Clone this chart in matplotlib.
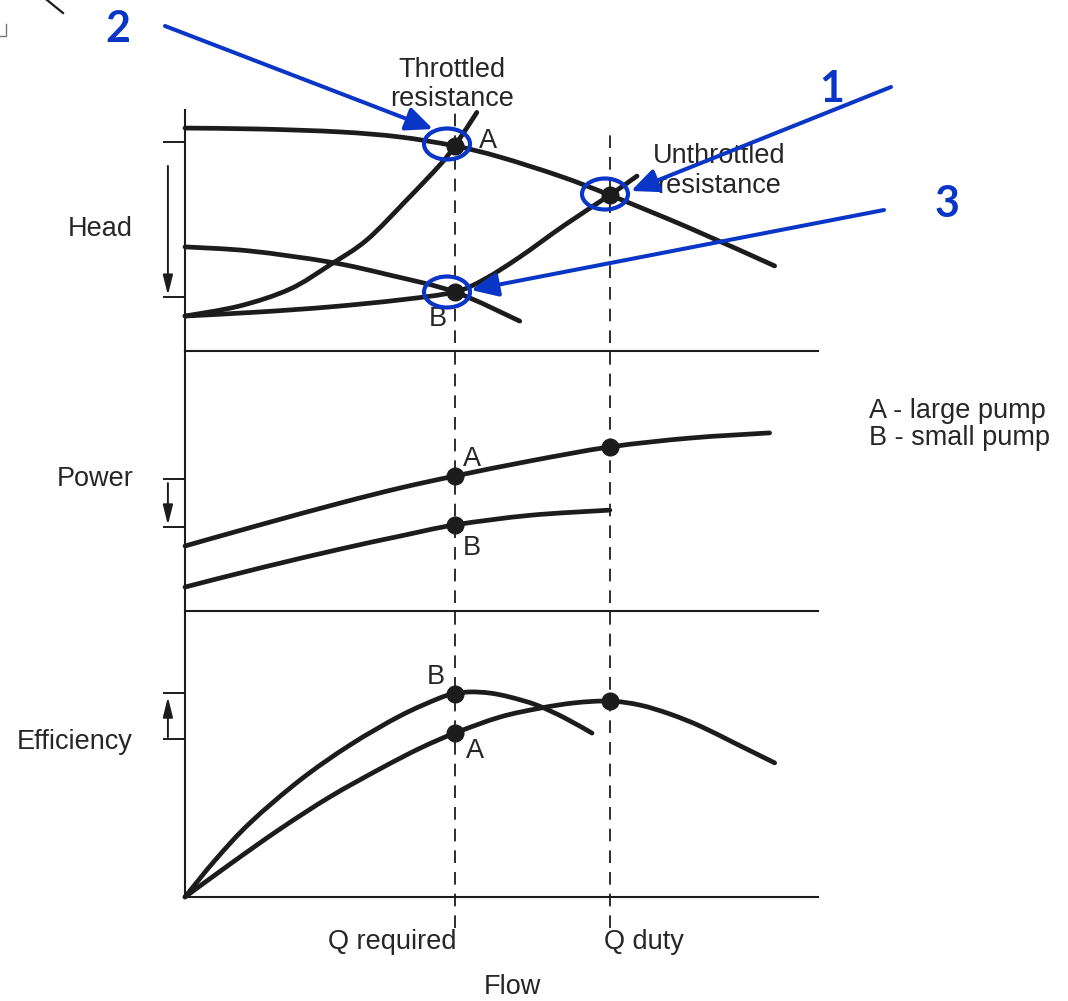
import numpy as np
import matplotlib.pyplot as plt
from matplotlib.patches import Ellipse, PathPatch
from matplotlib.path import Path
from matplotlib.transforms import blended_transform_factory

plt.rcParams['font.family'] = ['Liberation Sans', 'DejaVu Sans']

# flow in % of duty flow
q_required = 63.5
q_duty = 100

# head curves (% of panel height)
head_a_flow = [0, 17.6, 36.5, 50.6, 63.5, 74.1, 88.2, 100, 118.8, 138.8]
head_a = [92.5, 92.1, 90.9, 88.8, 85.1, 80.5, 72.6, 64.7, 51.0, 35.3]
head_b_flow = [0, 15.3, 34.1, 48.2, 63.5, 78.8]
head_b = [43.2, 41.5, 36.9, 31.5, 24.5, 12.4]
throttled_flow = [0, 12.9, 24.7, 34.1, 42.8, 52.2, 60.0, 63.5, 68.7]
throttled_head = [14.5, 18.7, 25.7, 35.7, 46.1, 62.7, 77.2, 85.1, 99.0]
unthrottled_flow = [0, 17.6, 34.1, 50.6, 63.5, 70.6, 78.8, 89.4, 100, 106.4]
unthrottled_head = [14.5, 16.2, 18.3, 21.2, 24.5, 29.9, 39.0, 52.3, 64.7, 72.6]

# power curves
power_a_flow = [0, 17.6, 36.5, 50.6, 63.5, 81.2, 100, 118.8, 137.6]
power_a = [25.0, 33.1, 41.5, 47.3, 51.9, 57.7, 63.1, 66.5, 68.5]
power_b_flow = [0, 17.6, 36.5, 50.6, 63.5, 81.2, 100]
power_b = [9.2, 16.5, 23.8, 28.8, 33.1, 36.8, 38.8]

# efficiency curves
eff_a_flow = [0, 10.6, 22.4, 34.1, 45.9, 55.3, 63.5, 74.1, 83.5, 91.8, 100,
              107.1, 114.1, 121.2, 129.4, 138.8]
eff_a = [0, 11.5, 23.8, 35.0, 44.8, 52.0, 57.3, 62.9, 66.0, 67.9, 68.5,
         67.1, 64.0, 59.8, 53.8, 46.9]
eff_b_flow = [0, 7.1, 15.3, 27.1, 38.8, 50.6, 60.0, 63.5, 67.1, 71.8, 76.5,
              82.8, 89.4, 95.8]
eff_b = [0, 12.9, 25.9, 40.9, 53.1, 63.3, 69.6, 71.0, 71.7, 71.3, 69.9,
         67.1, 62.6, 57.3]

# operating points
head_pts = [(q_required, 85.1), (q_required, 24.5), (q_duty, 64.7)]
power_pts = [(q_required, 51.9), (q_duty, 63.1), (q_required, 33.1)]
eff_pts = [(q_required, 71.0), (q_required, 57.3), (q_duty, 68.5)]

# reference levels marked on the vertical axis
head_ticks = [86.7, 22.4]
power_ticks = [50.8, 32.3]
eff_ticks = [71.3, 55.2]

W, H = 1068, 1001
ink = '#1c1c1c'
text_ink = '#262626'
blue = '#0a36c8'
fs = 19.5

fig = plt.figure(figsize=(W / 100, H / 100), dpi=100)


def box(x0, y0, x1, y1):
    return [x0 / W, 1 - y1 / H, (x1 - x0) / W, (y1 - y0) / H]


def smooth(ax, x, y):
    # cubic bezier through every point (catmull-rom tangents)
    pts = np.column_stack([x, y]).astype(float)
    verts, codes = [pts[0]], [Path.MOVETO]
    n = len(pts)
    for i in range(n - 1):
        p0 = pts[max(i - 1, 0)]
        p1, p2 = pts[i], pts[i + 1]
        p3 = pts[min(i + 2, n - 1)]
        verts += [p1 + (p2 - p0) / 6, p2 - (p3 - p1) / 6, p2]
        codes += [Path.CURVE4] * 3
    ax.add_patch(PathPatch(Path(verts, codes), fill=False, ec=ink, lw=3.4,
                           capstyle='round', joinstyle='round', clip_on=False))


ax_head = fig.add_axes(box(185, 110, 818, 351))
ax_power = fig.add_axes(box(185, 351, 818, 611))
ax_eff = fig.add_axes(box(185, 611, 818, 897))

for ax, ticks in [(ax_head, head_ticks), (ax_power, power_ticks), (ax_eff, eff_ticks)]:
    ax.set_xlim(0, 149)
    ax.set_ylim(0, 100)
    ax.patch.set_alpha(0)
    for s in ['top', 'right']:
        ax.spines[s].set_visible(False)
    for s in ['left', 'bottom']:
        ax.spines[s].set_linewidth(1.5)
        ax.spines[s].set_color(ink)
    ax.set_xticks([])
    ax.set_yticks(ticks)
    ax.tick_params(axis='y', length=16, width=1.4, color=ink, labelleft=False)

dot = dict(marker='o', ms=12, color=ink, ls='none', zorder=4, clip_on=False)

smooth(ax_head, head_a_flow, head_a)
smooth(ax_head, head_b_flow, head_b)
smooth(ax_head, throttled_flow, throttled_head)
smooth(ax_head, unthrottled_flow, unthrottled_head)
ax_head.plot(*zip(*head_pts), **dot)

smooth(ax_power, power_a_flow, power_a)
smooth(ax_power, power_b_flow, power_b)
ax_power.plot(*zip(*power_pts), **dot)

smooth(ax_eff, eff_a_flow, eff_a)
smooth(ax_eff, eff_b_flow, eff_b)
ax_eff.plot(*zip(*eff_pts), **dot)

# point letters
letters = [
    (ax_head, 'A', 85.1, (23.8, 3.6)),
    (ax_head, 'B', 24.5, (-12.2, -19.4)),
    (ax_power, 'A', 51.9, (12.2, 12.2)),
    (ax_power, 'B', 33.1, (12.2, -16.6)),
    (ax_eff, 'B', 71.0, (-13.7, 12.2)),
    (ax_eff, 'A', 57.3, (14.4, -13.0)),
]
for ax, s, y, off in letters:
    ax.annotate(s, xy=(q_required, y), xytext=off, textcoords='offset points',
                ha='center', va='center', fontsize=fs, color=text_ink)

# direction arrows beside each axis
arrows = [(ax_head, 76.8, 23.2), (ax_power, 49.2, 33.1), (ax_eff, 55.9, 69.9)]
for ax, y0, y1 in arrows:
    ax.annotate('', xy=(-0.027, y1), xytext=(-0.027, y0),
                xycoords=ax.get_yaxis_transform(),
                arrowprops=dict(arrowstyle='-|>,head_length=0.6,head_width=0.15',
                                mutation_scale=20, lw=1.4, color=ink,
                                shrinkA=0, shrinkB=0))

# flow markers running through all three panels
trans = blended_transform_factory(ax_eff.transData, fig.transFigure)
ax_eff.plot([q_required, q_required], [1 - 928 / H, 1 - 108 / H], transform=trans,
            clip_on=False, color=ink, lw=1.3, ls=(0, (7, 5)), zorder=1)
ax_eff.plot([q_duty, q_duty], [1 - 928 / H, 1 - 133 / H], transform=trans,
            clip_on=False, color=ink, lw=1.3, ls=(0, (7, 5)), zorder=1)

# text and callouts in pixel space
note = fig.add_axes([0, 0, 1, 1])
note.set_xlim(0, W)
note.set_ylim(H, 0)
note.axis('off')
note.patch.set_alpha(0)


def label(x, y, s, ha='left', **kw):
    note.text(x, y, s, ha=ha, va='baseline', fontsize=fs, color=text_ink, **kw)


label(100, 236, 'Head', ha='center')
label(95, 486, 'Power', ha='center')
label(75, 749, 'Efficiency', ha='center')
label(452, 77, 'Throttled', ha='center')
label(452, 106, 'resistance', ha='center')
label(653, 163, 'Unthrottled')
label(657, 193, 'resistance')
label(869, 418, 'A - large pump')
label(869, 445, 'B - small pump')
label(456, 949, 'Q required', ha='right')
label(604, 949, 'Q duty')
label(512, 994, 'Flow', ha='center')

# stray stroke at the top-left edge
note.plot([47, 63], [0, 13], color=ink, lw=1.6)
note.plot([0, 6, 6], [36, 36, 24], color=ink, lw=1.0, alpha=0.6)

# numbered callouts
for cx, cy in [(447, 144), (605, 194), (447, 292)]:
    note.add_patch(Ellipse((cx, cy), 46, 31, fill=False, ec=blue, lw=3.0, zorder=6))

callouts = [
    ('2', (118, 42), (165, 26), (433, 129)),
    ('1', (832, 102), (891, 87), (631, 191)),
    ('3', (947, 217), (884, 210), (471, 290)),
]
for s, (nx, ny), start, tip in callouts:
    note.text(nx, ny, s, ha='center', va='baseline', fontsize=31,
              fontweight='bold', family=['Lato', 'DejaVu Sans'], color=blue)
    note.annotate('', xy=tip, xytext=start,
                  arrowprops=dict(arrowstyle='-|>,head_length=0.9,head_width=0.4',
                                  mutation_scale=18, lw=2.9, color=blue,
                                  shrinkA=0, shrinkB=0), zorder=7)

fig.savefig('out.png', dpi=100, facecolor='white')
